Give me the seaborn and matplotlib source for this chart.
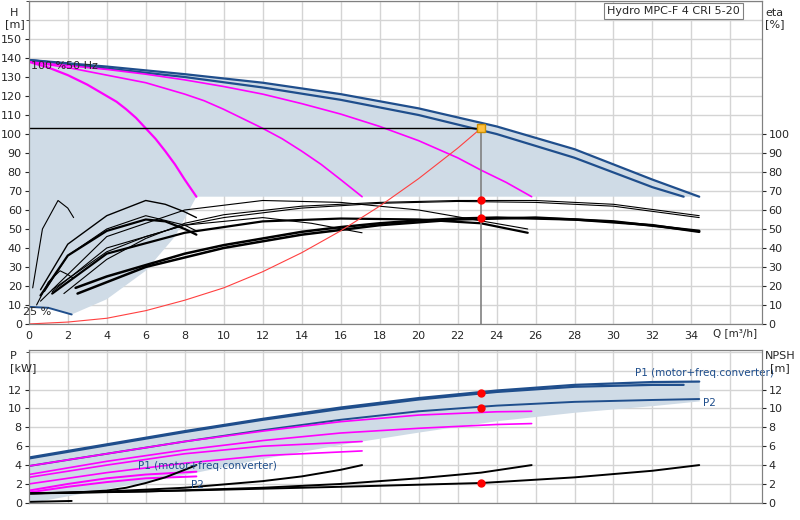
import matplotlib
matplotlib.use("Agg")
import matplotlib.pyplot as plt
import seaborn as sns
import numpy as np

# ---------------- data ----------------
q_max1 = [0, 4, 8, 12, 16, 20, 24, 28, 32, 34.4]
h_max1 = [139, 135.5, 131.5, 127, 121, 113.5, 104, 92, 76, 67]
q_max2 = [0, 4, 8, 12, 16, 20, 24, 28, 32, 33.6]
h_max2 = [139, 134.5, 130, 124.5, 118, 110, 100, 87.5, 72, 67]
q_m3 = [0, 2, 4, 6, 8, 10, 12, 14, 16, 18, 20, 22, 23.2, 24.5, 25.8]
h_m3 = [138, 136, 134, 131.5, 128.5, 125, 121, 116, 110.5, 104, 96.5, 87.5, 81, 74.5, 67]
q_m2 = [0, 1, 2, 3, 4, 5, 6, 7, 8, 9, 10, 11, 12, 13, 14, 15, 16, 17.1]
h_m2 = [138, 136.5, 135, 133, 131, 129, 127, 124, 121, 117.5, 113, 108, 103, 97.5, 91, 84, 76, 67]
q_m1 = [0, 0.5, 1, 1.5, 2, 2.5, 3, 3.5, 4, 4.5, 5, 5.5, 6, 6.5, 7, 7.5, 8, 8.6]
h_m1 = [138, 136.5, 135, 133, 131, 128.5, 126, 123, 120, 117, 113, 108.5, 103, 97.5, 91, 84, 76, 67]
q_sys = [0, 2, 4, 6, 8, 10, 12, 14, 16, 18, 20, 22, 23.2]
h_sys = [0, 1, 3, 7, 12.5, 19, 27.5, 37.5, 49, 62, 76.5, 92.5, 103]
q_25 = [0, 1, 2.2]
h_25 = [9, 8.5, 5]
q_low = [0, 1, 2.2, 4, 6, 7.5, 8.6, 34.4]
h_low = [9, 8.5, 5, 13, 28, 46, 67, 67]

eta_curves = [
    ([2.4, 4, 6, 8, 10, 12, 14, 16, 18, 20, 22, 24, 28, 32, 34.4],
     [19, 25, 31, 37, 41.5, 45, 48.5, 51, 53, 54.5, 55.5, 56, 55, 52, 48.5], 1.8),
    ([2.5, 6, 10, 14, 18, 22, 26, 30, 34.4], [16, 30, 40, 47, 52, 55, 56, 54, 49], 1.8),
    ([1.8, 4, 6, 8, 10, 14, 18, 22, 26, 30, 34.4], [16, 34, 45, 53, 57.5, 62, 64, 65, 65, 63, 57], 0.8),
    ([1.2, 4, 6, 8, 10, 14, 18, 22, 26, 30, 34.4], [18, 38, 46, 52, 56, 61, 63.5, 64.5, 64, 62, 56], 0.8),
    ([1.2, 4, 8, 12, 16, 20, 23.2, 25.6], [16, 37, 48, 54, 55.5, 55, 53, 48], 1.6),
    ([0.6, 4, 8, 12, 16, 20, 25.6], [12, 46, 60, 65, 64, 60, 50], 0.8),
    ([1.2, 4, 8, 12, 14.5, 17.1], [17, 40, 52, 56, 53, 48], 0.8),
    ([0.6, 2, 4, 6, 7, 8, 8.6], [15, 36, 49, 55, 54, 50, 47], 1.6),
    ([0.6, 2, 4, 6, 7, 8, 8.6], [18, 42, 57, 65, 63, 59, 56], 1.0),
    ([0.8, 2, 4, 6, 8, 8.6], [17, 36, 50, 57, 52, 49], 0.8),
    ([0.2, 0.7, 1.5, 2.0, 2.3], [19, 50, 65, 61, 56], 0.8),
    ([0.4, 1.0, 1.6, 2.0, 2.3], [10, 22, 28, 26, 24], 0.8),
]

p_q1 = [0, 4, 8, 12, 16, 20, 24, 28, 32, 34.4]
p1_a = [4.8, 6.2, 7.6, 8.9, 10.1, 11.1, 11.9, 12.5, 12.8, 12.85]
p_q1b = [0, 4, 8, 12, 16, 20, 24, 28, 32, 33.6]
p1_b = [4.7, 6.1, 7.5, 8.8, 9.95, 10.95, 11.75, 12.3, 12.5, 12.5]
p2_a = [3.9, 5.2, 6.5, 7.7, 8.8, 9.7, 10.3, 10.7, 10.9, 11.0]
p_low = [0, 1.5, 3.0, 4.7, 6.2, 7.5, 8.7, 9.6, 10.3, 10.8]
pm_q3 = [0, 4, 8, 12, 16, 20, 24, 25.8]
pm3_a = [3.9, 5.2, 6.5, 7.6, 8.6, 9.3, 9.65, 9.7]
pm3_b = [3.0, 4.4, 5.6, 6.6, 7.4, 7.9, 8.3, 8.4]
pm_q2 = [0, 4, 8, 12, 17.1]
pm2_a = [2.7, 4.0, 5.2, 6.0, 6.5]
pm2_b = [2.0, 3.2, 4.2, 5.0, 5.5]
pm_q1 = [0, 2, 4, 6, 8.6]
pm1_a = [1.3, 2.0, 2.6, 3.0, 3.3]
pm1_b = [1.1, 1.7, 2.2, 2.6, 2.8]
npsh_curves = [
    ([0, 2, 4, 5, 6, 7, 8, 8.6], [1, 1.05, 1.3, 1.6, 2.1, 2.7, 3.5, 4]),
    ([0, 4, 8, 12, 14, 16, 17.1], [1, 1.2, 1.6, 2.3, 2.8, 3.5, 4]),
    ([0, 6, 12, 16, 20, 23.2, 25.8], [1, 1.2, 1.6, 2.0, 2.6, 3.2, 4]),
    ([0, 8, 16, 23.2, 28, 32, 34.4], [1, 1.3, 1.7, 2.1, 2.7, 3.4, 4]),
]
duty_q, duty_h = 23.2, 103
duty_eta = [65, 56]
duty_p = [11.6, 10.1, 2.1]

# ---------------- plot ----------------
sns.set_style("white")
plt.rcParams['font.family'] = ['DejaVu Sans']
fig = plt.figure(figsize=(8, 5.2), dpi=100)
ax = fig.add_axes([0.036, 0.377, 0.916, 0.621])
bx = fig.add_axes([0.036, 0.033, 0.916, 0.294])

BLUE = "#1f4e8c"
MAG = "#ff00ff"
SHADE = "#cfdbe6"
GRID = "#d4d4d4"

def line(a, x, y, c, lw):
    sns.lineplot(x=x, y=y, ax=a, color=c, lw=lw, estimator=None, sort=False)

poly_x = list(q_max1) + list(q_low[::-1])
poly_y = list(h_max1) + list(h_low[::-1])
ax.fill(poly_x, poly_y, color=SHADE, lw=0, zorder=1)
line(ax, q_max1, h_max1, BLUE, 1.6)
line(ax, q_max2, h_max2, BLUE, 1.6)
line(ax, q_m3, h_m3, MAG, 1.2)
line(ax, q_m2, h_m2, MAG, 1.2)
line(ax, q_m1, h_m1, MAG, 1.6)
line(ax, q_25, h_25, BLUE, 1.4)
for qx, ey, lw in eta_curves:
    line(ax, qx, ey, "black", lw)
line(ax, q_sys, h_sys, "#ff4040", 0.8)
ax.plot([0, duty_q], [duty_h, duty_h], color="black", lw=1)
ax.plot([duty_q, duty_q], [0, duty_h], color="#808080", lw=1.2)
ax.plot([duty_q], [duty_h], marker="s", color="#ffc040", ms=6, mec="#d09000", zorder=5)
ax.plot([duty_q] * 2, duty_eta, "o", color="red", ms=5, zorder=5)
ax.text(0.1, 134, "100 %50 Hz", fontsize=8)
ax.text(-0.3, 4.5, "25 %", fontsize=8)
ax.text(0.97, 0.985, "Hydro MPC-F 4 CRI 5-20", transform=ax.transAxes, ha="right", va="top",
        fontsize=8, bbox=dict(boxstyle="square,pad=0.3", fc="white", ec="#808080", lw=0.8))

ax.set_xlim(0, 37.6)
ax.set_ylim(0, 170)
ax.set_xticks(np.arange(0, 35, 2))
ax.set_yticks(np.arange(0, 151, 10))
ax.set_yticks(np.arange(0, 171, 10), minor=True)
ax.grid(True, which="both", color=GRID, lw=1)
ax.set_xticks(np.arange(0, 37.6, 2), minor=True)
ax.grid(True, axis="x", which="minor", color=GRID, lw=1)
ax.tick_params(labelsize=8, length=3, pad=2)
ax2 = ax.twinx()
ax2.set_ylim(0, 170)
ax2.set_yticks(np.arange(0, 101, 10))
ax2.tick_params(labelsize=8, length=3, pad=2)
ax.text(35.1, -2, "Q [m³/h]", fontsize=7.5, va="top")
fig.text(0.018, 0.985, "H\n[m]", fontsize=8, ha="center", va="top")
fig.text(0.968, 0.985, "eta\n[%]", fontsize=8, ha="center", va="top")
for a in (ax, ax2):
    for s in a.spines.values():
        s.set_color("#808080")

bx.fill_between(p_q1, p1_a, p_low, color=SHADE, lw=0, zorder=1)
line(bx, p_q1, p1_a, BLUE, 1.6)
line(bx, p_q1b, p1_b, BLUE, 1.6)
line(bx, p_q1, p2_a, BLUE, 1.4)
line(bx, pm_q3, pm3_a, MAG, 1.2)
line(bx, pm_q3, pm3_b, MAG, 1.2)
line(bx, pm_q2, pm2_a, MAG, 1.2)
line(bx, pm_q2, pm2_b, MAG, 1.2)
line(bx, pm_q1, pm1_a, MAG, 1.4)
line(bx, pm_q1, pm1_b, MAG, 1.4)
for qx, ny in npsh_curves:
    line(bx, qx, ny, "black", 1.4)
bx.plot([0, 2.2], [0.1, 0.2], color="black", lw=1.4)
bx.plot([duty_q] * 3, duty_p, "o", color="red", ms=5, zorder=5)
bx.text(31.1, 13.4, "P1 (motor+freq.converter)", fontsize=7.5, color=BLUE)
bx.text(34.6, 10.3, "P2", fontsize=7.5, color=BLUE)
bx.text(5.6, 3.6, "P1 (motor+freq.converter)", fontsize=7.5, color=BLUE)
bx.text(8.3, 1.6, "P2", fontsize=7.5, color=BLUE)
bx.set_xlim(0, 37.6)
bx.set_ylim(0, 16.2)
bx.set_xticks(np.arange(0, 37.6, 2))
bx.set_xticklabels([])
bx.set_yticks(np.arange(0, 13, 2))
bx.set_yticks(np.arange(0, 17, 2), minor=True)
bx.grid(True, which="both", color=GRID, lw=1)
bx.tick_params(labelsize=8, length=3, pad=2)
bx.tick_params(axis="x", length=0)
bx2 = bx.twinx()
bx2.set_ylim(0, 16.2)
bx2.set_yticks(np.arange(0, 13, 2))
bx2.tick_params(labelsize=8, length=3, pad=2)
fig.text(0.012, 0.325, "P\n[kW]", fontsize=8, ha="left", va="top")
fig.text(0.975, 0.325, "NPSH\n[m]", fontsize=8, ha="center", va="top")
for a in (bx, bx2):
    for s in a.spines.values():
        s.set_color("#808080")

fig.savefig("out.png", dpi=100)
